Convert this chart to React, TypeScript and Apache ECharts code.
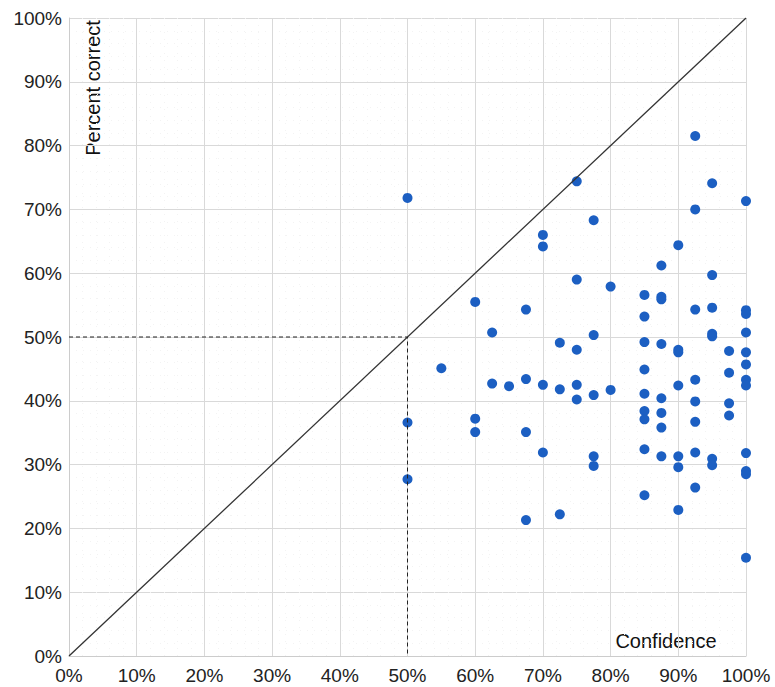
import React, { useEffect, useRef } from "react";
import * as echarts from "echarts";

// Confidence (%) -> list of percent-correct values (%)
const confidence = [50, 55, 60, 62.5, 65, 67.5, 70, 72.5, 75, 77.5, 80, 85, 87.5, 90, 92.5, 95, 97.5, 100];
const percentCorrect: number[][] = [
  [71.8, 36.6, 27.7],
  [45.1],
  [55.5, 37.2, 35.1],
  [50.7, 42.7],
  [42.3],
  [54.3, 43.4, 35.1, 21.3],
  [66.0, 64.2, 42.5, 31.9],
  [49.1, 41.8, 22.2],
  [74.4, 59.0, 48.0, 42.5, 40.2],
  [68.3, 50.3, 40.9, 31.3, 29.8],
  [57.9, 41.7],
  [56.6, 53.2, 49.2, 44.9, 41.1, 38.4, 37.1, 32.4, 25.2],
  [61.2, 56.3, 55.9, 48.9, 40.4, 38.1, 35.8, 31.3],
  [64.4, 48.0, 47.6, 42.4, 31.3, 29.6, 22.9],
  [81.5, 70.0, 54.3, 43.3, 39.9, 36.7, 31.9, 26.4],
  [74.1, 59.7, 54.6, 50.5, 50.1, 30.9, 29.9],
  [47.8, 44.4, 39.6, 37.7],
  [71.3, 54.2, 53.6, 50.7, 47.6, 45.7, 43.3, 42.4, 31.8, 29.0, 28.5, 15.4],
];
const diagonal = [[0, 0], [100, 100]];
const guide = [[0, 50], [50, 50], [50, 0]];
const xTitle = "Confidence";
const yTitle = "Percent correct";

export default function App() {
  const ref = useRef<HTMLDivElement>(null);
  useEffect(() => {
    if (!ref.current) return;
    const chart = echarts.init(ref.current, undefined, { renderer: "svg" });
    const points: number[][] = [];
    confidence.forEach((c, i) => percentCorrect[i].forEach((v) => points.push([c, v])));
    const font = "Arimo, 'Liberation Sans', Arial, sans-serif";
    const axisCommon = {
      type: "value" as const,
      min: 0,
      max: 100,
      interval: 10,
      axisLine: { show: true, lineStyle: { color: "#cccccc", width: 1 } },
      axisTick: { show: false },
      axisLabel: { formatter: "{value}%", color: "#222", fontSize: 19, fontFamily: font },
      splitLine: { show: true, lineStyle: { color: "#d9d9d9", width: 1 } },
      minorTick: { show: false, splitNumber: 5 },
      minorSplitLine: { show: true, lineStyle: { color: "#f3f3f3", type: [1, 6] as any, width: 1 } },
    };
    chart.setOption({
      animation: false,
      grid: { left: 69, right: 29, top: 18, bottom: 31, containLabel: false },
      xAxis: { ...axisCommon, axisLabel: { ...axisCommon.axisLabel, margin: 10 } },
      yAxis: { ...axisCommon, axisLabel: { ...axisCommon.axisLabel, margin: 7 } },
      graphic: [
        {
          type: "text",
          x: 666,
          y: 641,
          style: { text: xTitle, fill: "#111", font: `20px ${font}`, textAlign: "center", textVerticalAlign: "middle" },
        },
        {
          type: "text",
          x: 93,
          y: 88,
          rotation: Math.PI / 2,
          style: { text: yTitle, fill: "#111", font: `20px ${font}`, textAlign: "center", textVerticalAlign: "middle" },
        },
      ],
      series: [
        {
          type: "line",
          data: diagonal,
          symbol: "none",
          lineStyle: { color: "#333", width: 1.3 },
          silent: true,
        },
        {
          type: "line",
          data: guide,
          symbol: "none",
          lineStyle: { color: "#222", width: 1, type: [4, 3] },
          silent: true,
        },
        {
          type: "scatter",
          data: points,
          symbolSize: 10,
          itemStyle: { color: "#1c5fc2", opacity: 1 },
        },
      ],
    });
    return () => chart.dispose();
  }, []);
  return <div ref={ref} style={{ width: 775, height: 687, position: "absolute", left: 0, top: 0 }} />;
}
